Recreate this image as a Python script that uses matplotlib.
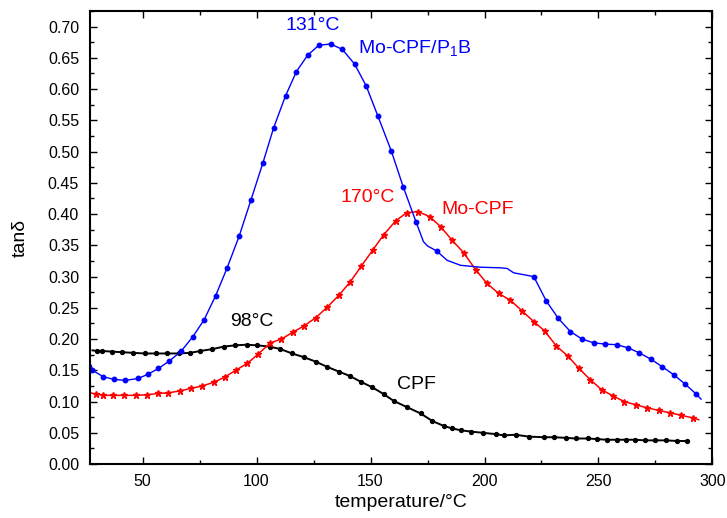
import matplotlib
matplotlib.use("Agg")
import matplotlib.pyplot as plt
from matplotlib.ticker import MultipleLocator, FormatStrFormatter

plt.rcParams['font.family'] = ['Liberation Sans', 'DejaVu Sans']
plt.rcParams['mathtext.default'] = 'regular'

# Mo-CPF/P1B (blue)
blue_x = [27.5, 28.0, 32.7, 37.4, 42.5, 48.1, 52.5, 56.9, 61.8, 67.0, 72.1, 77.0, 82.0, 87.1, 92.4,
          97.5, 102.8, 107.5, 112.7, 117.5, 122.4, 127.3, 132.5, 137.6, 143.0, 148.1, 153.2, 159.1,
          164.3, 169.9, 173.2, 175.0, 179.0, 183.6, 189.5, 198.2, 207.0, 209.9, 212.8, 221.6, 227.1,
          232.4, 237.7, 242.8, 247.9, 253.0, 258.0, 263.0, 267.9, 272.9, 277.9, 283.0, 288.0, 292.9, 295.0]
blue_y = [0.158, 0.150, 0.140, 0.1355, 0.134, 0.137, 0.144, 0.153, 0.165, 0.181, 0.204, 0.231, 0.269,
          0.314, 0.365, 0.422, 0.482, 0.538, 0.589, 0.628, 0.654, 0.670, 0.672, 0.6635, 0.640, 0.605,
          0.557, 0.501, 0.444, 0.388, 0.356, 0.349, 0.341, 0.326, 0.318, 0.315, 0.314, 0.313, 0.306,
          0.300, 0.261, 0.233, 0.212, 0.200, 0.194, 0.192, 0.191, 0.186, 0.178, 0.168, 0.156, 0.143,
          0.128, 0.112, 0.104]
blue_marked = [False, True, True, True, True, True, True, True, True, True, True, True, True, True, True,
               True, True, True, True, True, True, True, True, True, True, True, True, True,
               True, True, False, False, True, False, False, False, False, False, False, True, True,
               True, True, True, True, True, True, True, True, True, True, True, True, True, False]

# Mo-CPF (red)
red_x = [27.2, 29.4, 32.7, 37.1, 41.8, 46.9, 52.0, 56.7, 61.3, 66.2, 71.1, 76.2, 81.3, 86.0, 90.8, 95.9,
         100.7, 106.1, 110.9, 115.9, 120.8, 125.9, 131.0, 136.1, 141.2, 146.0, 150.9, 155.8, 161.0,
         165.8, 170.8, 175.9, 180.7, 185.8, 190.9, 196.1, 201.1, 206.2, 211.4, 216.5, 221.6, 226.4,
         231.5, 236.5, 241.5, 246.4, 251.4, 256.4, 261.4, 266.3, 271.3, 276.4, 281.4, 286.4, 291.3, 294.0]
red_y = [0.114, 0.112, 0.110, 0.110, 0.110, 0.110, 0.111, 0.113, 0.114, 0.117, 0.121, 0.125, 0.131, 0.139,
         0.150, 0.161, 0.176, 0.194, 0.200, 0.211, 0.221, 0.234, 0.251, 0.270, 0.292, 0.317, 0.342,
         0.367, 0.389, 0.402, 0.404, 0.396, 0.380, 0.358, 0.338, 0.311, 0.289, 0.273, 0.262, 0.245,
         0.228, 0.213, 0.189, 0.173, 0.153, 0.135, 0.119, 0.109, 0.100, 0.095, 0.090, 0.086, 0.082,
         0.078, 0.074, 0.071]

# CPF (black)
black_x = [28.0, 30.1, 32.3, 36.4, 41.1, 45.9, 50.9, 55.7, 60.8, 65.9, 70.8, 75.4, 80.6, 85.7, 90.5, 95.6,
           100.3, 105.7, 110.5, 115.6, 120.8, 125.9, 130.7, 136.1, 140.9, 145.6, 150.7, 155.8, 160.2,
           166.1, 172.0, 177.1, 182.2, 185.9, 189.8, 194.2, 199.5, 204.9, 208.5, 213.6, 219.5, 226.1,
           230.7, 235.6, 240.0, 245.4, 249.5, 253.8, 258.2, 261.9, 266.0, 270.4, 275.0, 279.7, 284.5, 288.9]
black_y = [0.182, 0.181, 0.181, 0.180, 0.179, 0.178, 0.177, 0.177, 0.177, 0.177, 0.178, 0.181, 0.184,
           0.188, 0.190, 0.191, 0.190, 0.188, 0.184, 0.177, 0.171, 0.164, 0.156, 0.148, 0.141, 0.132,
           0.123, 0.112, 0.101, 0.091, 0.081, 0.069, 0.061, 0.057, 0.054, 0.052, 0.050, 0.048, 0.046,
           0.047, 0.044, 0.043, 0.043, 0.042, 0.041, 0.041, 0.040, 0.039, 0.039, 0.039, 0.039, 0.038,
           0.038, 0.038, 0.037, 0.037]

x_ticks = [50, 100, 150, 200, 250, 300]

fig = plt.figure(figsize=(7.27, 5.18), dpi=100)
ax = fig.add_axes([0.124, 0.104, 0.856, 0.875])

ax.plot(black_x, black_y, color='black', lw=1.4, marker='o', ms=2.8, markevery=list(range(1, len(black_x))))
ax.plot(red_x, red_y, color='red', lw=1.1, marker='*', ms=4.8, markevery=list(range(1, len(red_x) - 1)))
ax.plot(blue_x, blue_y, color='blue', lw=1.0, marker='o', ms=3.2, markevery=blue_marked)

ax.set_xlim(27, 300)
ax.set_ylim(0, 0.725)
ax.set_xticks(x_ticks)
ax.xaxis.set_minor_locator(MultipleLocator(25))
ax.yaxis.set_major_locator(MultipleLocator(0.05))
ax.yaxis.set_minor_locator(MultipleLocator(0.025))
ax.yaxis.set_major_formatter(FormatStrFormatter('%.2f'))
ax.tick_params(which='both', direction='in', top=True, right=True, labelsize=11.5)
ax.tick_params(axis='y', pad=8)
ax.tick_params(axis='x', pad=7)
ax.tick_params(which='major', length=5, width=1.0)
ax.tick_params(which='minor', length=3, width=1.0)
for s in ax.spines.values():
    s.set_linewidth(1.5)

ax.set_xlabel('temperature/°C', fontsize=14, labelpad=4)
ax.set_ylabel('tanδ', fontsize=14, labelpad=14)

ax.text(112.6, 0.702, '131°C', color='blue', fontsize=14, va='center', ha='left')
ax.text(144.3, 0.665, 'Mo-CPF/P$_1$B', color='blue', fontsize=14, va='center', ha='left')
ax.text(137.0, 0.426, '170°C', color='red', fontsize=14, va='center', ha='left')
ax.text(181.2, 0.408, 'Mo-CPF', color='red', fontsize=14, va='center', ha='left')
ax.text(88.5, 0.228, '98°C', color='black', fontsize=14, va='center', ha='left')
ax.text(161.6, 0.127, 'CPF', color='black', fontsize=14, va='center', ha='left')

fig.savefig('out.png', dpi=100)
